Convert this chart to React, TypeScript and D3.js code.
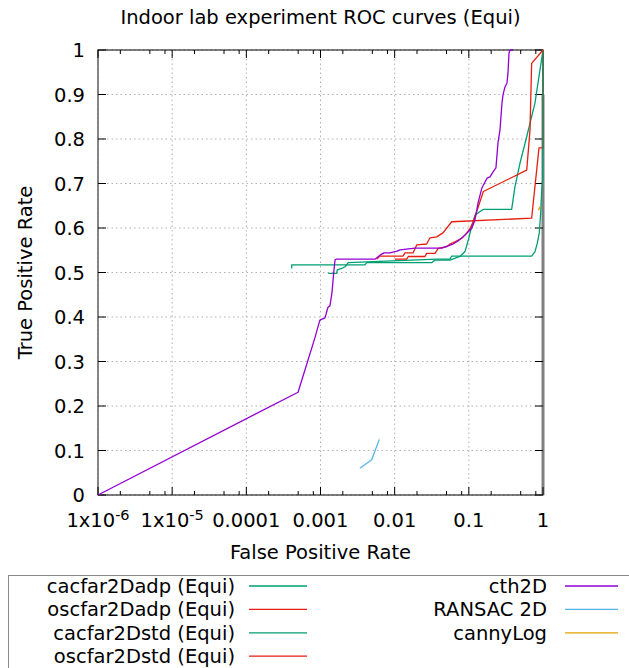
import React from "react";
import * as d3 from "d3";

const W = 629;
const H = 668;

// x tick decades and y ticks
const xMajor = [1e-6, 1e-5, 1e-4, 1e-3, 1e-2, 1e-1, 1];
const xMajorLabels = ["1x10|-6", "1x10|-5", "0.0001", "0.001", "0.01", "0.1", "1"];
const xMinorMult = [2, 5, 8];
const yTicks = [0, 0.1, 0.2, 0.3, 0.4, 0.5, 0.6, 0.7, 0.8, 0.9, 1];
const yTickLabels = ["0", "0.1", "0.2", "0.3", "0.4", "0.5", "0.6", "0.7", "0.8", "0.9", "1"];

// series: [FPR, TPR]
const cacfar2Dadp: [number, number][] = [
  [4.09e-4, 0.509], [4.09e-4, 0.517], [3.98e-3, 0.517], [4.2e-3, 0.522], [0.0316, 0.522],
  [0.035, 0.528], [0.0557, 0.528], [0.076, 0.536], [0.0887, 0.547], [0.0984, 0.573],
  [0.109, 0.603], [0.121, 0.629], [0.157, 0.642], [0.378, 0.642], [0.419, 0.693],
  [0.49, 0.746], [0.603, 0.805], [0.78, 0.881], [1, 1],
];
const oscfar2Dadp: [number, number][] = [
  [5.73e-3, 0.53], [6.34e-3, 0.537], [0.01294, 0.537], [0.01377, 0.544], [0.01766, 0.544],
  [0.01982, 0.562], [0.027, 0.564], [0.0299, 0.578], [0.0369, 0.58], [0.0448, 0.589],
  [0.0587, 0.614], [0.703, 0.622], [0.883, 0.78], [1, 0.78], [1, 1],
];
const cacfar2Dstd: [number, number][] = [
  [1.27e-3, 0.498], [1.65e-3, 0.498], [1.68e-3, 0.506], [1.93e-3, 0.509], [2.14e-3, 0.513],
  [2.37e-3, 0.522], [0.0368, 0.53], [0.0557, 0.53], [0.0587, 0.537], [0.703, 0.537],
  [0.78, 0.547], [0.838, 0.566], [0.891, 0.589], [0.931, 0.634], [0.96, 0.685],
  [0.99, 0.708], [1, 1],
];
const oscfar2Dstd: [number, number][] = [
  [0.01009, 0.53], [0.01452, 0.53], [0.01528, 0.536], [0.02564, 0.536], [0.027, 0.543],
  [0.035, 0.543], [0.0387, 0.554], [0.0502, 0.558], [0.0557, 0.564], [0.065, 0.569],
  [0.0801, 0.577], [0.0935, 0.588], [0.1037, 0.599], [0.1149, 0.614], [0.157, 0.682],
  [0.603, 0.73], [0.668, 0.82], [0.703, 0.97], [1, 1],
];
const cth2D: [number, number][] = [
  [1e-6, 0], [4.98e-4, 0.231], [8.4e-4, 0.353], [9.8e-4, 0.393], [1.15e-3, 0.398],
  [1.26e-3, 0.422], [1.34e-3, 0.425], [1.43e-3, 0.456], [1.47e-3, 0.479], [1.52e-3, 0.506],
  [1.57e-3, 0.528], [1.62e-3, 0.53], [5.43e-3, 0.53], [6.34e-3, 0.539], [7.18e-3, 0.544],
  [8.65e-3, 0.544], [0.0107, 0.548], [0.0118, 0.551], [0.0188, 0.555], [0.0434, 0.555],
  [0.0611, 0.564], [0.0692, 0.569], [0.0834, 0.58], [0.0975, 0.591], [0.11, 0.6],
  [0.121, 0.618], [0.133, 0.656], [0.15, 0.69], [0.176, 0.712], [0.193, 0.715],
  [0.212, 0.726], [0.232, 0.735], [0.247, 0.791], [0.263, 0.82], [0.28, 0.881],
  [0.289, 0.899], [0.307, 0.917], [0.327, 0.926], [0.337, 0.948], [0.348, 0.993],
  [0.359, 1], [0.394, 1],
];
const ransac2D: [number, number][] = [[3.4e-3, 0.06], [4.9e-3, 0.079], [6.21e-3, 0.125]];
const cannyLog: [number, number][] = [[0.865, 0.64], [0.912, 0.648]];

const seriesNames = [
  "cacfar2Dadp (Equi)", "oscfar2Dadp (Equi)", "cacfar2Dstd (Equi)", "oscfar2Dstd (Equi)",
  "cth2D", "RANSAC 2D", "cannyLog",
];
const seriesData = [cacfar2Dadp, oscfar2Dadp, cacfar2Dstd, oscfar2Dstd, cth2D, ransac2D, cannyLog];
const seriesColors = ["#009e73", "#e51e10", "#009e73", "#e51e10", "#9400d3", "#56b4e9", "#e69f00"];

const FONT = "DejaVu Sans, sans-serif";

export default function App() {
  const left = 98, right = 543, top = 50, bottom = 495;
  const x = d3.scaleLog().domain([1e-6, 1]).range([left, right]);
  const y = d3.scaleLinear().domain([0, 1]).range([bottom, top]);
  const line = d3.line<[number, number]>().x((d) => x(d[0])).y((d) => y(d[1]));

  const minors: number[] = [];
  xMajor.slice(0, -1).forEach((m) => xMinorMult.forEach((k) => minors.push(m * k)));

  const majLen = 8, minLen = 4;
  const fs = 19.5;

  const legendRowY = (i: number) => 586 + i * 23.4;

  return (
    <svg width={W} height={H} style={{ position: "absolute", left: 0, top: 0, background: "#fff" }}
      fontFamily={FONT}>
      <rect x={0} y={0} width={W} height={H} fill="#fff" />
      {/* grid */}
      {xMajor.map((v, i) => (
        <line key={"gx" + i} x1={x(v)} x2={x(v)} y1={top} y2={bottom} stroke="#b0b0b0"
          strokeWidth={1} strokeDasharray="1.5,3" />
      ))}
      {yTicks.map((v, i) => (
        <line key={"gy" + i} x1={left} x2={right} y1={y(v)} y2={y(v)} stroke="#b0b0b0"
          strokeWidth={1} strokeDasharray="1.5,3" />
      ))}
      {/* frame */}
      <rect x={left} y={top} width={right - left} height={bottom - top} fill="none" stroke="#000" strokeWidth={1} />
      <line x1={x(1)} x2={x(1)} y1={y(0)} y2={y(0.9)} stroke="#808080" strokeWidth={3} />
      <line x1={x(1e-6)} x2={x(1e-6)} y1={y(0)} y2={y(0.985)} stroke="#888" strokeWidth={1.5} />
      {/* ticks */}
      {xMajor.map((v, i) => (
        <g key={"tx" + i}>
          <line x1={x(v)} x2={x(v)} y1={bottom} y2={bottom - majLen} stroke="#000" />
          <line x1={x(v)} x2={x(v)} y1={top} y2={top + majLen} stroke="#000" />
        </g>
      ))}
      {minors.map((v, i) => (
        <g key={"mx" + i}>
          <line x1={x(v)} x2={x(v)} y1={bottom} y2={bottom - minLen} stroke="#000" />
          <line x1={x(v)} x2={x(v)} y1={top} y2={top + minLen} stroke="#000" />
        </g>
      ))}
      {yTicks.map((v, i) => (
        <g key={"ty" + i}>
          <line x1={left} x2={left + majLen} y1={y(v)} y2={y(v)} stroke="#000" />
          <line x1={right} x2={right - majLen} y1={y(v)} y2={y(v)} stroke="#000" />
        </g>
      ))}
      {/* data */}
      {seriesData.map((d, i) => (
        <path key={"s" + i} d={line(d) || ""} fill="none" stroke={seriesColors[i]}
          strokeWidth={1.3} strokeLinejoin="round" />
      ))}
      {/* tick labels */}
      {xMajor.map((v, i) => {
        const parts = xMajorLabels[i].split("|");
        return (
          <text key={"lx" + i} x={x(v)} y={527} textAnchor="middle" fontSize={fs}>
            {parts[0]}
            {parts[1] ? (
              <tspan dy={-7} fontSize={14.5}>{parts[1]}</tspan>
            ) : null}
          </text>
        );
      })}
      {yTicks.map((v, i) => (
        <text key={"ly" + i} x={85} y={y(v)} dy="0.36em" textAnchor="end" fontSize={fs}>
          {yTickLabels[i]}
        </text>
      ))}
      {/* titles */}
      <text x={(left + right) / 2} y={17} dy="0.36em" textAnchor="middle" fontSize={fs}>
        Indoor lab experiment ROC curves (Equi)
      </text>
      <text x={(left + right) / 2} y={552} dy="0.36em" textAnchor="middle" fontSize={fs}>
        False Positive Rate
      </text>
      <text transform={`translate(25,${(top + bottom) / 2}) rotate(-90)`} dy="0.36em" textAnchor="middle" fontSize={fs}>
        True Positive Rate
      </text>
      {/* legend */}
      <rect x={8.5} y={575.5} width={W + 20} height={120} fill="none" stroke="#888" strokeWidth={1} />
      {seriesNames.map((name, i) => {
        const col = i < 4 ? 0 : 1;
        const row = i < 4 ? i : i - 4;
        const textEnd = col === 0 ? 235 : 547;
        const l1 = col === 0 ? 249 : 565;
        const l2 = col === 0 ? 307 : 618;
        const yy = legendRowY(row);
        return (
          <g key={"lg" + i}>
            <text x={textEnd} y={yy} dy="0.36em" textAnchor="end" fontSize={fs}>{name}</text>
            <line x1={l1} x2={l2} y1={yy} y2={yy} stroke={seriesColors[i]} strokeWidth={1.3} />
          </g>
        );
      })}
    </svg>
  );
}
